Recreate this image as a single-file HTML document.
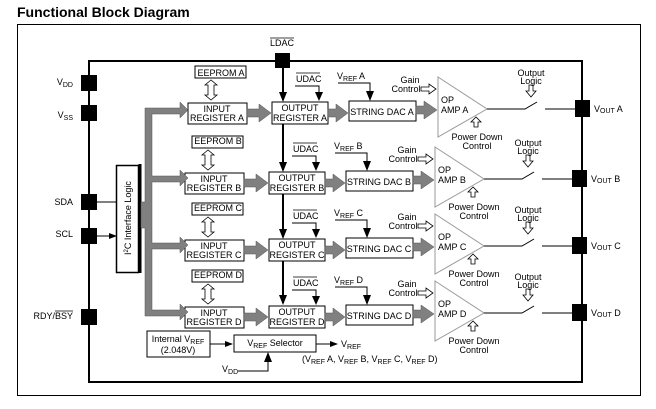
<!DOCTYPE html>
<html><head><meta charset="utf-8"><style>
html,body{margin:0;padding:0;background:#fff}
svg{display:block;font-family:"Liberation Sans",Arial,sans-serif}
</style></head><body>
<svg width="656" height="409" viewBox="0 0 656 409" xmlns="http://www.w3.org/2000/svg">
<defs>
<marker id="ah" markerWidth="8" markerHeight="8" refX="7" refY="4" orient="auto" markerUnits="userSpaceOnUse"><path d="M0,1 L8,4 L0,7 Z" fill="#000"/></marker>
<g id="row">
  <rect x="195" y="66" width="51" height="12" fill="#fff" stroke="#000" stroke-width="1"/>
  <path d="M211,80 l-6,5 h3 v10 h-3 l6,5 l6,-5 h-3 v-10 h3 z" fill="#fff" stroke="#000" stroke-width="0.8"/>
  <rect x="188" y="103" width="59" height="21" fill="#fff" stroke="#000"/>
  <path d="M247,109 h12 v-5 l12,9 l-12,9 v-5 h-12 z" fill="#808080" stroke="#555" stroke-width="0.5"/>
  <rect x="272" y="102" width="56" height="22" fill="#fff" stroke="#000"/>
  <path d="M328,109 h8 v-5 l12,9 l-12,9 v-5 h-8 z" fill="#808080" stroke="#555" stroke-width="0.5"/>
  <rect x="349" y="101" width="67" height="20" fill="#fff" stroke="#000"/>
  <path d="M416,106 h8 v-5 l13,9 l-13,9 v-5 h-8 z" fill="#808080" stroke="#555" stroke-width="0.5"/>
  <path d="M295,86 H319 V99" fill="none" stroke="#000" stroke-width="1"/>
  <path d="M315,92 L319,101 L323,92 Z" fill="#000"/>
  <path d="M338,83 H370 V98" fill="none" stroke="#000" stroke-width="1"/>
  <path d="M366,91 L370,101 L374,91 Z" fill="#000"/>
  <path d="M421,87 h8 v-3 l7,5 l-7,5 v-3 h-8 z" fill="#fff" stroke="#000" stroke-width="0.8"/>
  <path d="M438,77 L487,109 L438,137 Z" fill="#fff" stroke="#999" stroke-width="1"/>
  <path d="M476,117 l-5,5 h3 v5 h4 v-5 h3 z" fill="#fff" stroke="#000" stroke-width="0.8"/>
  <path d="M487,109 H525 L537,102 M545,109 H575" fill="none" stroke="#000" stroke-width="1"/>
  <path d="M529,85 h4 v6 h3 l-5,6 l-5,-6 h3 z" fill="#fff" stroke="#000" stroke-width="0.8"/>
  <rect x="575" y="100" width="15" height="17" fill="#000"/>
</g>
</defs>
<text x="17" y="17" font-size="14" font-weight="bold">Functional Block Diagram</text>
<rect x="17.5" y="24.5" width="623" height="371" fill="none" stroke="#000" stroke-width="1"/>
<rect x="89" y="61" width="493" height="321" fill="none" stroke="#000" stroke-width="2"/>
<rect x="275" y="53" width="15" height="15" fill="#000"/>
<text x="270" y="46" font-size="9">LDAC</text>
<line x1="270" y1="38" x2="294" y2="38" stroke="#000" stroke-width="0.8"/>
<path d="M283,68 V100 M283,124 V170 M283,194 V237 M283,261 V303" stroke="#000" stroke-width="2" fill="none"/>
<path d="M279,92 L283,102 L287,92 Z M279,162 L283,172 L287,162 Z M279,229 L283,239 L287,229 Z M279,295 L283,305 L287,295 Z" fill="#000"/>

<use href="#row"/>
<use href="#row" transform="translate(-3,70)"/>
<use href="#row" transform="translate(-3,137)"/>
<use href="#row" transform="translate(-3,204)"/>

<g font-size="9" text-anchor="middle">
<text x="221" y="76">EEPROM A</text><text x="218" y="144">EEPROM B</text><text x="218" y="211">EEPROM C</text><text x="218" y="278">EEPROM D</text>
<text x="217" y="112">INPUT</text><text x="217" y="121">REGISTER A</text>
<text x="214" y="182">INPUT</text><text x="214" y="191">REGISTER B</text>
<text x="214" y="249">INPUT</text><text x="214" y="258">REGISTER C</text>
<text x="214" y="316">INPUT</text><text x="214" y="325">REGISTER D</text>
<text x="300" y="111">OUTPUT</text><text x="300" y="121">REGISTER A</text>
<text x="297" y="181">OUTPUT</text><text x="297" y="191">REGISTER B</text>
<text x="297" y="248">OUTPUT</text><text x="297" y="258">REGISTER C</text>
<text x="297" y="315">OUTPUT</text><text x="297" y="325">REGISTER D</text>
<text x="382" y="115">STRING DAC A</text><text x="379" y="185">STRING DAC B</text><text x="379" y="252">STRING DAC C</text><text x="379" y="319">STRING DAC D</text>
</g>
<g font-size="9">
<text x="296" y="82">UDAC</text><text x="293" y="152">UDAC</text><text x="293" y="219">UDAC</text><text x="293" y="286">UDAC</text>
<path d="M296,73 h24 M293,143 h24 M293,210 h24 M293,277 h24" stroke="#000" stroke-width="0.8"/>
<text x="337" y="79">V<tspan font-size="7" dy="2">REF</tspan><tspan dy="-2"> A</tspan></text>
<text x="334" y="149">V<tspan font-size="7" dy="2">REF</tspan><tspan dy="-2"> B</tspan></text>
<text x="334" y="216">V<tspan font-size="7" dy="2">REF</tspan><tspan dy="-2"> C</tspan></text>
<text x="334" y="283">V<tspan font-size="7" dy="2">REF</tspan><tspan dy="-2"> D</tspan></text>
</g>
<g font-size="9" text-anchor="middle">
<text x="410" y="83">Gain</text><text x="406" y="92">Control</text>
<text x="407" y="153">Gain</text><text x="403" y="162">Control</text>
<text x="407" y="220">Gain</text><text x="403" y="229">Control</text>
<text x="407" y="287">Gain</text><text x="403" y="296">Control</text>
<text x="477" y="140">Power Down</text><text x="477" y="149">Control</text>
<text x="474" y="210">Power Down</text><text x="474" y="219">Control</text>
<text x="474" y="277">Power Down</text><text x="474" y="286">Control</text>
<text x="474" y="344">Power Down</text><text x="474" y="353">Control</text>
<text x="531" y="76">Output</text><text x="531" y="84">Logic</text>
<text x="528" y="146">Output</text><text x="528" y="154">Logic</text>
<text x="528" y="213">Output</text><text x="528" y="221">Logic</text>
<text x="528" y="280">Output</text><text x="528" y="288">Logic</text>
</g>
<g font-size="9">
<text x="441" y="103">OP</text><text x="441" y="113">AMP A</text>
<text x="438" y="173">OP</text><text x="438" y="183">AMP B</text>
<text x="438" y="240">OP</text><text x="438" y="250">AMP C</text>
<text x="438" y="307">OP</text><text x="438" y="317">AMP D</text>
<text x="594" y="112">V<tspan font-size="7" dy="1">OUT</tspan><tspan dy="-1"> A</tspan></text>
<text x="591" y="182">V<tspan font-size="7" dy="1">OUT</tspan><tspan dy="-1"> B</tspan></text>
<text x="591" y="249">V<tspan font-size="7" dy="1">OUT</tspan><tspan dy="-1"> C</tspan></text>
<text x="591" y="316">V<tspan font-size="7" dy="1">OUT</tspan><tspan dy="-1"> D</tspan></text>
</g>

<!-- left pins -->
<g fill="#000">
<rect x="81" y="75" width="16" height="16"/><rect x="81" y="105" width="16" height="16"/>
<rect x="81" y="194" width="16" height="16"/><rect x="81" y="228" width="16" height="16"/>
<rect x="81" y="309" width="16" height="16"/>
</g>
<g font-size="9" text-anchor="end">
<text x="73" y="85">V<tspan font-size="7" dy="2">DD</tspan></text>
<text x="73" y="118">V<tspan font-size="7" dy="2">SS</tspan></text>
<text x="73" y="205">SDA</text><text x="73" y="237">SCL</text>
<text x="73" y="319">RDY/BSY</text>
</g>
<line x1="55" y1="311" x2="73" y2="311" stroke="#000" stroke-width="0.7"/>
<path d="M97,202 H116 M97,236 H116" stroke="#000" stroke-width="1" marker-end="url(#ah)"/>
<!-- I2C -->
<rect x="116.5" y="165.5" width="22" height="107" fill="#fff" stroke="#000" stroke-width="1.5"/>
<line x1="140" y1="164" x2="140" y2="273" stroke="#000" stroke-width="3"/>
<text transform="translate(131,255) rotate(-90)" font-size="9">I<tspan font-size="6" dy="-3">2</tspan><tspan dy="3">C Interface Logic</tspan></text>
<!-- gray bus -->
<path d="M141,202 H145 V108 H180 V102 L188,110 L180,118 V114 H152 V176 H180 V170 L188,178 L180,186 V182 H152 V243 H180 V237 L188,245 L180,253 V249 H152 V310 H180 V304 L188,312 L180,320 V316 H145 V228 H141 Z" fill="#808080" stroke="#555" stroke-width="0.5"/>
<!-- bottom -->
<rect x="147" y="331" width="63" height="26" fill="#fff" stroke="#000"/>
<text x="178" y="342" font-size="9" text-anchor="middle">Internal V<tspan font-size="7" dy="2">REF</tspan></text>
<text x="178" y="353" font-size="9" text-anchor="middle">(2.048V)</text>
<path d="M210,344 H232" stroke="#000" marker-end="url(#ah)"/>
<rect x="234" y="335" width="82" height="17" fill="#fff" stroke="#000"/>
<text x="275" y="346" font-size="9" text-anchor="middle">V<tspan font-size="7" dy="2">REF</tspan><tspan dy="-2"> Selector</tspan></text>
<path d="M316,344 H337" stroke="#000" marker-end="url(#ah)"/>
<text x="341" y="347" font-size="9">V<tspan font-size="7" dy="2">REF</tspan></text>
<text x="302" y="362" font-size="9">(V<tspan font-size="7" dy="2">REF</tspan><tspan dy="-2"> A, V</tspan><tspan font-size="7" dy="2">REF</tspan><tspan dy="-2"> B, V</tspan><tspan font-size="7" dy="2">REF</tspan><tspan dy="-2"> C, V</tspan><tspan font-size="7" dy="2">REF</tspan><tspan dy="-2"> D)</tspan></text>
<text x="222" y="372" font-size="9">V<tspan font-size="7" dy="2">DD</tspan></text>
<path d="M238,371 H268 V354" stroke="#000" fill="none"/>
<path d="M264,362 L268,352 L272,362 Z" fill="#000"/>
</svg>
</body></html>
